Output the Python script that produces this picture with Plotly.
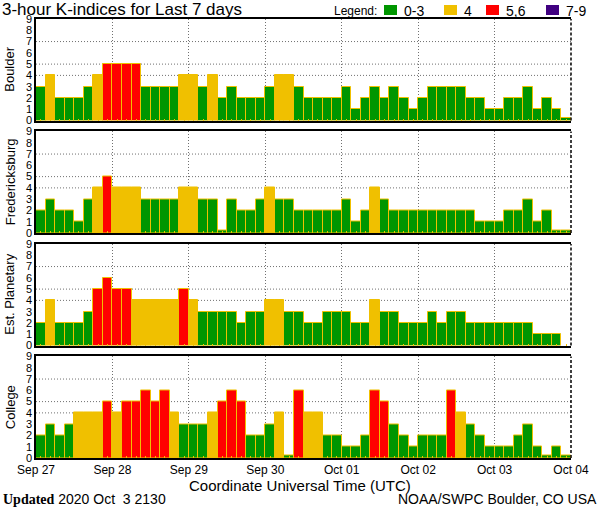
import pandas as pd
import plotly.graph_objects as go
from plotly.subplots import make_subplots

# 3-hour K-indices, 8 per day, Sep 27 - Oct 03 2020 (UTC)
stations = ["Boulder", "Fredericksburg", "Est. Planetary", "College"]

boulder = [3, 4, 2, 2, 2, 3, 4, 5,
           5, 5, 5, 3, 3, 3, 3, 4,
           4, 3, 4, 2, 3, 2, 2, 2,
           3, 4, 4, 3, 2, 2, 2, 2,
           3, 1, 2, 3, 2, 3, 2, 1,
           2, 3, 3, 3, 3, 2, 2, 1,
           1, 2, 2, 3, 1, 2, 1, 0]

fredericksburg = [2, 3, 2, 2, 1, 3, 4, 5,
                  4, 4, 4, 3, 3, 3, 3, 4,
                  4, 3, 3, 0, 3, 2, 2, 3,
                  4, 3, 3, 2, 2, 2, 2, 2,
                  3, 1, 2, 4, 3, 2, 2, 2,
                  2, 2, 2, 2, 2, 2, 1, 1,
                  1, 2, 2, 3, 1, 2, 0, 0]

planetary = [2, 4, 2, 2, 2, 3, 5, 6,
             5, 5, 4, 4, 4, 4, 4, 5,
             4, 3, 3, 3, 3, 2, 3, 3,
             4, 4, 3, 3, 2, 2, 3, 3,
             3, 2, 2, 4, 3, 3, 2, 2,
             2, 3, 2, 3, 3, 2, 2, 2,
             2, 2, 2, 2, 1, 1, 1, None]

college = [2, 3, 2, 3, 4, 4, 4, 5,
           4, 5, 5, 6, 5, 6, 4, 3,
           3, 3, 4, 5, 6, 5, 2, 2,
           3, 4, 0, 6, 4, 4, 2, 2,
           1, 1, 2, 6, 5, 3, 2, 1,
           2, 2, 2, 6, 4, 3, 2, 1,
           1, 1, 2, 3, 1, 0, 1, 0]

series = [boulder, fredericksburg, planetary, college]

legend_labels = ["0-3", "4", "5,6", "7-9"]
legend_colors = ["#009600", "#f0c000", "#ff0000", "#400080"]

times = pd.date_range("2020-09-27 01:30", periods=56, freq="3h")
day_ticks = ["Sep 27", "Sep 28", "Sep 29", "Sep 30", "Oct 01", "Oct 02", "Oct 03", "Oct 04"]
day_vals = pd.date_range("2020-09-27", periods=8, freq="D")

FONT = "Liberation Sans"
DOTS = "1px,2px"


def k_color(k):
    if k is None or k <= 3:
        return legend_colors[0]
    if k == 4:
        return legend_colors[1]
    if k <= 6:
        return legend_colors[2]
    return legend_colors[3]


# pixel -> paper helpers (plot area x 36..571, y 19..458)
def px_x(p):
    return (p - 36) / 535


def px_y(p):
    return (458 - p) / 439


fig = make_subplots(rows=4, cols=1, shared_xaxes=True, vertical_spacing=0.025)

for i, vals in enumerate(series):
    row = i + 1
    # K=0 is drawn as a thin sliver so it stays visible
    heights = [None if v is None else max(v, 0.2) for v in vals]
    fig.add_trace(go.Bar(
        x=times, y=heights,
        width=3 * 3600 * 1000,
        marker=dict(color=[k_color(v) for v in vals],
                    line=dict(color="#f0c000", width=1)),
        hoverinfo="skip", showlegend=False,
    ), row=row, col=1)

    sfx = "" if row == 1 else str(row)
    # dotted reference lines at K = 4, 5, 7
    for lvl in [4, 5, 7]:
        fig.add_shape(type="line", xref="x%s domain" % sfx, yref="y%s" % sfx,
                      x0=0, x1=1, y0=lvl, y1=lvl, layer="below",
                      line=dict(color="#707070", width=1, dash=DOTS))
    # dashed right edge
    fig.add_shape(type="line", xref="x%s domain" % sfx, yref="y%s domain" % sfx,
                  x0=1, x1=1, y0=0, y1=1, layer="above",
                  line=dict(color="black", width=1.5, dash="3px,2px"))
    # station label
    fig.add_annotation(text=stations[i], textangle=-90, showarrow=False,
                       xref="paper", yref="y%s domain" % sfx,
                       x=px_x(10), y=0.5, xanchor="center", yanchor="middle",
                       font=dict(family=FONT, size=13, color="black"))

    fig.update_yaxes(range=[0, 9], tickvals=list(range(10)), ticks="",
                     showgrid=False, zeroline=False,
                     showline=True, linecolor="black", linewidth=1.5,
                     tickfont=dict(family=FONT, size=11, color="black"),
                     row=row, col=1)
    fig.update_xaxes(range=[day_vals[0], day_vals[-1]],
                     tickvals=day_vals, ticktext=day_ticks, ticks="",
                     showgrid=True, gridcolor="#707070", griddash=DOTS, gridwidth=1,
                     showline=True, mirror=True, linecolor="black", linewidth=1.5,
                     minor=dict(tickvals=times, ticks="inside", ticklen=2,
                                tickcolor="#f0c000", tickwidth=1, showgrid=False),
                     tickfont=dict(family=FONT, size=12, color="black"),
                     row=row, col=1)

# title
fig.add_annotation(text="3-hour K-indices for Last 7 days", showarrow=False,
                   xref="paper", yref="paper", x=px_x(0), y=px_y(9.5),
                   xanchor="left", yanchor="middle",
                   font=dict(family=FONT, size=17, color="black"))

# hand-drawn legend
fig.add_annotation(text="Legend:", showarrow=False, xref="paper", yref="paper",
                   x=px_x(379), y=px_y(11), xanchor="right", yanchor="middle",
                   font=dict(family=FONT, size=12, color="black"))
box_x = [384, 444, 486, 546]
for lab, col, bx in zip(legend_labels, legend_colors, box_x):
    fig.add_shape(type="rect", xref="paper", yref="paper",
                  x0=px_x(bx), x1=px_x(bx + 13), y0=px_y(15), y1=px_y(5),
                  fillcolor=col, line=dict(width=0))
    fig.add_annotation(text=lab, showarrow=False, xref="paper", yref="paper",
                       x=px_x(bx + 18), y=px_y(11), xanchor="left", yanchor="middle",
                       font=dict(family=FONT, size=14, color="black"))

# bottom texts
fig.add_annotation(text="Coordinate Universal Time (UTC)", showarrow=False,
                   xref="paper", yref="paper", x=px_x(300), y=px_y(485),
                   xanchor="center", yanchor="middle",
                   font=dict(family=FONT, size=15, color="black"))
fig.add_annotation(text="<span style='font-family:Liberation Serif'><b>Updated</b></span> 2020 Oct&nbsp; 3 2130",
                   showarrow=False, xref="paper", yref="paper",
                   x=px_x(1), y=px_y(499), xanchor="left", yanchor="middle",
                   font=dict(family=FONT, size=14, color="black"))
fig.add_annotation(text="NOAA/SWPC Boulder, CO USA", showarrow=False,
                   xref="paper", yref="paper", x=px_x(599), y=px_y(499),
                   xanchor="right", yanchor="middle",
                   font=dict(family=FONT, size=14, color="black"))

fig.update_layout(width=600, height=510,
                  margin=dict(l=36, r=29, t=19, b=52),
                  paper_bgcolor="white", plot_bgcolor="white",
                  bargap=0, showlegend=False)

# page body margin would shift the 600x510 figure off the window
fig.write_html("out.html", config={"displayModeBar": False},
               post_script="document.body.style.margin='0';")
